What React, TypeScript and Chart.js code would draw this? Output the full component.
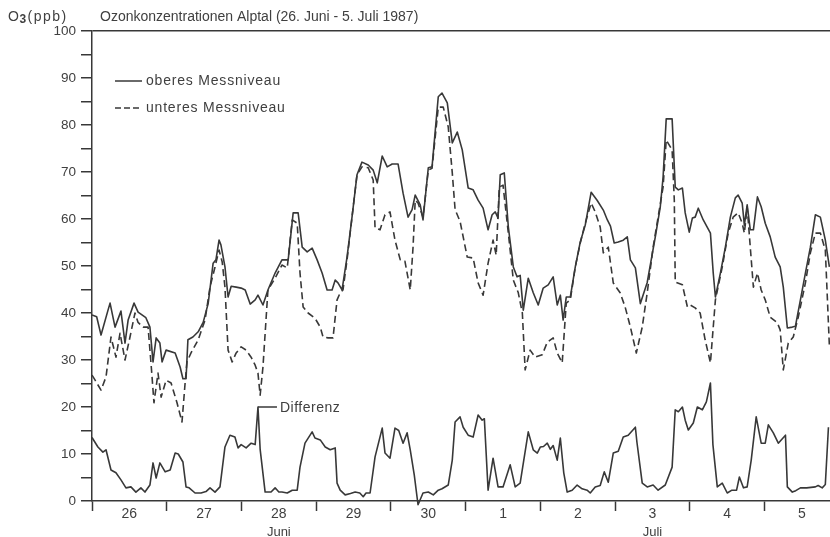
import { useEffect, useRef } from 'react';
import { Chart, registerables } from 'chart.js';

Chart.register(...registerables);

// Zeitachse: Stunden ab 26. Juni, 0 Uhr
const UPPER_HOURS = [
  0, 1.5, 2.9, 5.1, 5.8, 7.4, 9.3, 10.6, 11.6, 13.5, 14.8, 17.3, 18.6, 19.6, 20.6, 21.8, 22.5, 23.8,
  26.7, 28.3, 29.2, 30.2, 30.8, 32.4, 34.1, 35.7, 37.3, 38.9, 39.8, 40.8, 41.4, 42.7, 43.7, 44.7, 46.3,
  47.9, 49.2, 50.8, 52.4, 53.3, 54.9, 56.5, 58.8, 61.0, 63.0, 64.6, 66.2, 67.5, 69.1, 70.7, 72.3, 73.9,
  75.5, 77.1, 78.1, 79.0, 80.3, 81.9, 83.5, 85.1, 86.7, 88.7, 90.3, 91.6, 93.2, 94.8, 96.4, 98.3, 99.9,
  101.5, 102.8, 103.8, 105.4, 106.3, 108.0, 109.2, 111.2, 112.4, 114.1, 115.7, 117.3, 118.9, 120.8,
  122.4, 124.0, 125.6, 127.2, 128.5, 129.5, 130.4, 131.1, 132.4, 133.7, 135.3, 136.5, 137.5, 138.5,
  140.1, 141.7, 143.3, 144.9, 146.5, 148.1, 149.4, 150.4, 151.3, 152.3, 153.6, 155.2, 156.8, 158.4,
  160.3, 162.2, 164.2, 165.5, 166.5, 167.7, 169.0, 170.6, 171.9, 172.9, 174.5, 176.1, 178.3, 180.9,
  182.5, 183.4, 184.4, 186.3, 187.3, 188.3, 189.6, 190.5, 191.8, 192.8, 193.7, 194.7, 196.3, 198.6,
  199.5, 200.2, 201.8, 203.4, 205.0, 206.6, 207.5, 208.8, 209.5, 210.4, 211.4, 212.4, 213.7, 214.9,
  216.2, 217.8, 219.4, 221.0, 222.0, 223.3, 224.9, 225.9, 227.5, 229.1, 230.7, 232.3, 233.9, 235.5,
  236.8,
];
const UPPER_PPB = [
  39.6, 39.2, 35.3, 40.5, 42.1, 37.0, 40.4, 33.6, 38.5, 42.1, 40.2, 39.0, 37.0, 29.6, 34.7, 33.6, 29.6, 32.1,
  31.5, 28.5, 26.0, 26.0, 34.3, 34.9, 36.0, 38.0, 42.0, 50.6, 51.3, 55.5, 54.5, 49.8, 43.4, 45.7, 45.5,
  45.3, 44.9, 41.9, 42.8, 43.8, 41.7, 44.9, 48.5, 51.3, 51.3, 61.3, 61.3, 54.0, 53.0, 53.8, 51.3, 48.5,
  44.9, 44.9, 47.0, 46.4, 44.9, 51.9, 60.4, 69.4, 72.1, 71.5, 70.4, 67.7, 73.4, 71.1, 71.7, 71.7, 65.5,
  60.4, 62.0, 65.1, 63.0, 59.8, 70.9, 71.1, 86.0, 86.8, 84.7, 76.2, 78.5, 74.7, 66.6,
  66.2, 64.0, 62.3, 57.7, 60.9, 61.5, 60.2, 69.4, 69.8, 58.3, 49.8, 47.7, 48.0, 40.6,
  47.4, 44.3, 41.7, 45.3, 46.0, 47.7, 41.7, 43.8, 38.5, 43.4, 43.4, 49.8, 55.1, 58.7,
  65.7, 64.0, 61.9, 59.8, 58.5, 54.9, 55.1, 55.5, 56.2, 51.3, 49.6, 42.0, 46.5, 56.2,
  62.6, 68.9, 81.3, 81.3, 66.8, 66.2, 66.6, 61.3, 57.2, 60.2, 60.4, 62.3, 59.8, 57.0,
  48.5, 43.4, 48.5, 54.0, 60.4, 64.5, 65.1, 63.4, 58.7, 63.0, 57.7, 57.7, 64.7, 62.6,
  59.1, 56.2, 51.9, 49.8, 45.5, 36.8, 37.0, 37.2, 42.8, 48.5, 54.0, 60.9, 60.4, 55.5,
  49.8,
];

const LOWER_HOURS = [
  0, 1.0, 2.9, 4.5, 6.1, 7.7, 9.0, 10.6, 12.2, 13.8, 14.8, 16.4, 18.0, 19.0, 19.9, 21.2, 22.2, 23.8,
  25.4, 27.3, 28.9, 29.9, 30.5, 31.8, 34.1, 36.3, 37.9, 39.5, 40.8, 41.8, 42.7, 43.7, 45.0, 46.3, 47.9,
  49.5, 51.1, 52.4, 53.3, 54.0, 54.9, 56.5, 58.8, 61.0, 62.7, 64.3, 65.9, 66.8, 67.8, 69.4, 71.6, 73.3,
  74.2, 75.8, 77.4, 78.7, 79.7, 80.6, 81.9, 83.5, 85.1, 86.7, 88.7, 90.3, 90.9, 92.5, 94.1, 95.7, 97.3,
  99.0, 100.5, 102.2, 103.1, 103.8, 104.7, 106.3, 108.0, 109.2, 111.2, 112.8, 114.4, 115.7, 116.6,
  118.2, 120.5, 122.4, 124.0, 125.6, 127.2, 128.8, 129.8, 130.8, 132.0, 133.7, 135.3, 136.9, 138.2,
  139.1, 140.7, 142.3, 144.6, 146.2, 148.1, 149.4, 151.0, 152.3, 153.6, 155.2, 156.8, 158.4, 160.3,
  161.6, 163.2, 164.2, 165.8, 167.4, 169.6, 171.2, 172.9, 174.8, 176.7, 178.3, 180.2, 183.4, 184.4,
  186.3, 187.0, 187.3, 189.6, 191.2, 192.1, 193.7, 195.3, 196.9, 198.6, 200.2, 202.4, 204.3, 205.9,
  207.5, 208.8, 209.5, 210.4, 211.4, 212.4, 213.7, 214.9, 216.2, 217.8, 220.1, 221.0, 222.0, 223.6,
  225.2, 226.8, 229.1, 230.7, 232.3, 233.9, 235.5, 236.8,
];
const LOWER_PPB = [
  26.8, 25.7, 23.6, 26.4, 34.9, 30.6, 35.7, 30.0, 34.9, 40.0, 38.0, 37.0, 37.0, 28.9, 20.9, 27.2, 22.1, 25.7,
  25.1, 20.9, 16.8, 25.1, 29.6, 31.5, 34.3, 38.5, 45.5, 49.8, 53.4, 50.9, 45.5, 32.1, 29.6, 31.5, 32.8,
  32.1, 30.6, 28.9, 27.2, 22.5, 28.5, 44.9, 47.4, 50.2, 49.6, 59.8, 59.1, 48.5, 41.3, 40.0, 38.9, 37.0,
  34.9, 34.7, 34.7, 42.8, 44.3, 44.9, 51.3, 60.4, 69.4, 71.1, 70.9, 68.3, 58.1, 57.7, 60.9, 61.5, 55.5,
  51.3, 51.0, 44.9, 54.0, 64.0, 63.4, 60.4, 70.4, 70.8, 83.8, 83.8, 79.6, 69.8, 62.0,
  59.5, 51.9, 51.7, 46.4, 43.8, 50.6, 55.5, 52.3, 66.8, 67.2, 57.0, 47.0, 44.3, 40.0,
  27.9, 32.1, 30.6, 31.1, 33.8, 34.7, 31.5, 29.4, 42.1, 42.8, 49.8, 54.9, 59.1, 63.4,
  61.5, 58.3, 52.8, 54.0, 46.4, 44.3, 41.3, 37.0, 31.5, 37.0, 44.3, 54.0, 66.8, 76.8,
  74.7, 64.0, 46.6, 46.0, 41.3, 41.7, 41.1, 40.0, 34.3, 29.4, 42.8, 49.8, 57.0, 60.4,
  61.3, 59.1, 57.0, 62.6, 54.0, 45.5, 48.5, 44.9, 42.8, 39.1, 37.9, 36.4, 27.9, 33.6,
  34.9, 39.1, 46.4, 52.8, 57.0, 57.0, 53.4, 33.0,
];

const DIFF_HOURS = [
  0, 1.9, 3.5, 4.5, 6.1, 7.7, 9.3, 10.9, 12.5, 14.1, 15.7, 17.0, 18.6, 19.6, 20.6, 21.8, 23.5, 25.1,
  26.7, 27.7, 29.2, 30.2, 31.2, 33.1, 35.0, 36.6, 37.9, 39.5, 41.1, 42.7, 44.3, 45.9, 46.9, 47.9, 49.5,
  51.1, 52.4, 53.3, 54.0, 55.6, 57.5, 58.8, 60.0, 61.0, 62.7, 64.3, 65.9, 66.8, 68.4, 70.7, 71.6, 73.3,
  74.9, 76.5, 78.1, 78.7, 79.7, 81.3, 83.0, 84.5, 86.0, 87.1, 88.0, 89.3, 90.9, 93.2, 94.1, 95.7, 97.3,
  98.5, 99.9, 101.2, 102.2, 103.5, 104.7, 106.3, 108.0, 109.6, 111.2, 112.4, 114.4, 115.7, 116.6, 118.2,
  119.2, 120.8, 122.4, 124.0, 125.3, 126.0, 127.2, 128.8, 130.4, 132.0, 134.3, 135.9, 137.5, 138.5,
  140.1, 141.7, 143.0, 144.0, 145.0, 146.2, 147.2, 148.1, 149.4, 150.4, 151.5, 152.6, 154.2, 155.8,
  157.4, 159.0, 160.0, 161.6, 163.2, 164.5, 165.8, 167.4, 169.0, 170.6, 172.2, 174.5, 175.0, 176.7,
  178.3, 180.2, 181.8, 184.1, 186.3, 187.3, 188.3, 189.6, 190.5, 191.5, 193.1, 194.4, 196.0, 197.3,
  198.6, 199.4, 200.8, 202.4, 204.0, 205.5, 207.0, 207.9, 209.2, 210.4, 211.7, 213.3, 214.9, 216.2,
  217.2, 218.8, 220.4, 222.7, 223.3, 224.9, 226.0, 227.5, 229.5, 232.3, 233.2, 234.5, 235.5, 236.5,
];
const DIFF_PPB = [
  13.5, 11.5, 10.4, 10.9, 6.6, 6.0, 4.5, 2.8, 3.0, 1.9, 2.8, 1.9, 3.4, 8.1, 4.9, 8.1, 6.2, 6.6,
  10.2, 10.0, 8.3, 3.0, 2.8, 1.7, 1.7, 2.0, 2.8, 1.9, 3.0, 11.5, 14.0, 13.6, 11.3, 12.0, 11.3,
  12.3, 12.0, 20.0, 11.0, 1.9, 1.9, 2.8, 1.9, 1.9, 1.7, 2.3, 2.3, 7.2, 12.3, 14.7, 13.4, 13.0,
  11.5, 10.9, 11.3, 3.8, 2.3, 1.3, 1.6, 1.9, 1.7, 0.9, 1.7, 1.7, 9.4, 15.5, 10.2, 9.1, 15.5,
  15.0, 12.3, 14.5, 10.9, 5.5, -0.8, 1.7, 1.9, 1.3, 2.3, 2.6, 3.4, 8.7, 16.8, 17.9,
  15.7, 14.0, 13.6, 18.3, 17.2, 17.5, 2.3, 9.1, 3.0, 3.0, 7.7, 3.0, 3.8, 8.0,
  14.7, 10.9, 10.2, 11.5, 11.6, 12.3, 11.0, 11.8, 8.7, 13.4, 6.0, 1.9, 2.3, 3.4,
  2.6, 2.3, 1.7, 3.0, 3.3, 6.2, 4.0, 10.2, 10.6, 13.6, 14.0, 15.7, 12.5, 3.8,
  3.0, 3.4, 2.3, 3.4, 7.2, 19.4, 19.0, 20.0, 17.2, 15.1, 16.6, 20.0, 19.4, 21.1,
  25.1, 12.0, 3.0, 3.8, 1.7, 2.3, 2.3, 5.1, 2.8, 3.0, 8.7, 17.9, 12.3, 12.3,
  16.2, 14.5, 12.3, 14.0, 3.0, 1.9, 2.2, 2.8, 2.8, 3.0, 3.3, 2.8, 3.5, 15.7,
];

const DAY_LABELS = ['26', '27', '28', '29', '30', '1', '2', '3', '4', '5'];
const MONTH_LABELS = ['Juni', 'Juli'];
const MONTH_DAY_INDEX = [2, 7];
const Y_LABEL_STEP = 10;
const Y_TICK_STEP = 5;
const X_END_HOURS = 237;
const DIFF_LABEL_HOUR = 53.3;

const TITLE = 'Ozonkonzentrationen Alptal (26. Juni - 5. Juli 1987)';
const LEGEND_UPPER = 'oberes Messniveau';
const LEGEND_LOWER = 'unteres Messniveau';
const DIFF_LABEL = 'Differenz';

const INK = '#383838';
const TEXT = '#404040';
const FONT_FAMILY = '"Liberation Sans", Arial, sans-serif';

const pairs = (hours: number[], values: number[]) => hours.map((h, i) => ({ x: h, y: values[i] }));

const overlay = {
  id: 'ozoneOverlay',
  afterDraw(chart: any) {
    const { ctx, chartArea, scales } = chart;
    const xs = scales.x;
    const ys = scales.y;
    ctx.save();
    ctx.fillStyle = TEXT;
    ctx.strokeStyle = INK;
    ctx.lineWidth = 1.5;

    // Kopfzeile: Einheit und Titel
    ctx.textBaseline = 'alphabetic';
    ctx.textAlign = 'left';
    ctx.font = `14px ${FONT_FAMILY}`;
    let cx = 8;
    ctx.fillText('O', cx, 20.5);
    cx += ctx.measureText('O').width + 0.5;
    ctx.font = `bold 12px ${FONT_FAMILY}`;
    ctx.fillText('3', cx, 23);
    cx += ctx.measureText('3').width + 1.5;
    ctx.font = `14px ${FONT_FAMILY}`;
    ctx.letterSpacing = '1.5px';
    ctx.fillText('(ppb)', cx, 20.5);
    ctx.letterSpacing = '0px';
    ctx.fillText(TITLE, 100, 20.5);

    // Legende
    const lx0 = chartArea.left + 23;
    const lx1 = chartArea.left + 50;
    const ly1 = chartArea.top + 50;
    const ly2 = chartArea.top + 77;
    ctx.beginPath();
    ctx.moveTo(lx0, ly1);
    ctx.lineTo(lx1, ly1);
    ctx.stroke();
    ctx.setLineDash([6, 3]);
    ctx.beginPath();
    ctx.moveTo(lx0, ly2);
    ctx.lineTo(lx1, ly2);
    ctx.stroke();
    ctx.setLineDash([]);
    ctx.textBaseline = 'middle';
    ctx.letterSpacing = '0.8px';
    ctx.fillText(LEGEND_UPPER, lx1 + 4, ly1);
    ctx.fillText(LEGEND_LOWER, lx1 + 4, ly2);

    // Beschriftung der Differenzkurve
    const di = DIFF_HOURS.indexOf(DIFF_LABEL_HOUR);
    const dx = xs.getPixelForValue(DIFF_HOURS[di]);
    const dy = ys.getPixelForValue(DIFF_PPB[di]);
    ctx.beginPath();
    ctx.moveTo(dx, dy);
    ctx.lineTo(dx + 19, dy);
    ctx.stroke();
    ctx.letterSpacing = '0.5px';
    ctx.fillText(DIFF_LABEL, dx + 22, dy + 1);
    ctx.letterSpacing = '0px';

    // Monatsnamen unter den Tagesbeschriftungen
    ctx.textAlign = 'center';
    ctx.font = `13px ${FONT_FAMILY}`;
    MONTH_LABELS.forEach((m, i) => {
      ctx.fillText(m, xs.getPixelForValue(MONTH_DAY_INDEX[i] * 24 + 12), chartArea.bottom + 31);
    });
    ctx.restore();
  },
};

export default function App() {
  const canvasRef = useRef<HTMLCanvasElement | null>(null);

  useEffect(() => {
    document.body.style.margin = '0';
    const canvas = canvasRef.current;
    if (!canvas) return;

    const lineBase = {
      borderColor: INK,
      borderWidth: 1.6,
      pointRadius: 0,
      tension: 0,
      fill: false,
      borderJoinStyle: 'round' as const,
    };

    const chart = new Chart(canvas, {
      type: 'line',
      data: {
        datasets: [
          { ...lineBase, label: LEGEND_UPPER, data: pairs(UPPER_HOURS, UPPER_PPB) },
          { ...lineBase, label: LEGEND_LOWER, data: pairs(LOWER_HOURS, LOWER_PPB), borderDash: [7, 4] },
          { ...lineBase, label: DIFF_LABEL, data: pairs(DIFF_HOURS, DIFF_PPB), clip: 6 },
        ],
      },
      options: {
        responsive: false,
        devicePixelRatio: 1,
        animation: false,
        events: [],
        layout: { padding: { top: 31, right: 0, left: 0, bottom: 0 } },
        plugins: { legend: { display: false }, tooltip: { enabled: false }, title: { display: false } },
        scales: {
          x: {
            type: 'linear',
            min: 0,
            max: X_END_HOURS,
            afterBuildTicks: (scale: any) => {
              const t: { value: number }[] = [];
              DAY_LABELS.forEach((_, i) => {
                t.push({ value: i * 24 });
                t.push({ value: i * 24 + 12 });
              });
              scale.ticks = t;
            },
            afterFit: (scale: any) => {
              scale.height = 36;
            },
            border: { display: true, color: INK, width: 1.5 },
            grid: {
              drawOnChartArea: false,
              drawTicks: true,
              tickLength: 10,
              tickWidth: 1.5,
              tickColor: (c: any) => (c.tick && c.tick.value % 24 === 0 ? INK : 'rgba(0,0,0,0)'),
            },
            ticks: {
              autoSkip: false,
              maxRotation: 0,
              padding: -5,
              color: TEXT,
              font: { family: FONT_FAMILY, size: 14 },
              callback: (v: any) => {
                const n = Number(v);
                return n % 24 === 12 ? DAY_LABELS[(n - 12) / 24] : '';
              },
            },
          },
          y: {
            type: 'linear',
            min: 0,
            max: 100,
            afterBuildTicks: (scale: any) => {
              const t: { value: number }[] = [];
              for (let v = 0; v <= 100; v += Y_TICK_STEP) t.push({ value: v });
              scale.ticks = t;
            },
            afterFit: (scale: any) => {
              scale.width = 92;
            },
            border: { display: true, color: INK, width: 1.5 },
            grid: {
              drawOnChartArea: true,
              drawTicks: true,
              tickLength: 11,
              tickWidth: 1.5,
              lineWidth: 1.5,
              color: (c: any) => (c.tick && c.tick.value === 100 ? INK : 'rgba(0,0,0,0)'),
              tickColor: INK,
            },
            ticks: {
              padding: 5,
              color: TEXT,
              font: { family: FONT_FAMILY, size: 13.5 },
              callback: (v: any) => (Number(v) % Y_LABEL_STEP === 0 ? String(v) : ''),
            },
          },
        },
      },
      plugins: [overlay],
    });

    return () => chart.destroy();
  }, []);

  return <canvas ref={canvasRef} width={830} height={537} style={{ display: 'block' }} />;
}
